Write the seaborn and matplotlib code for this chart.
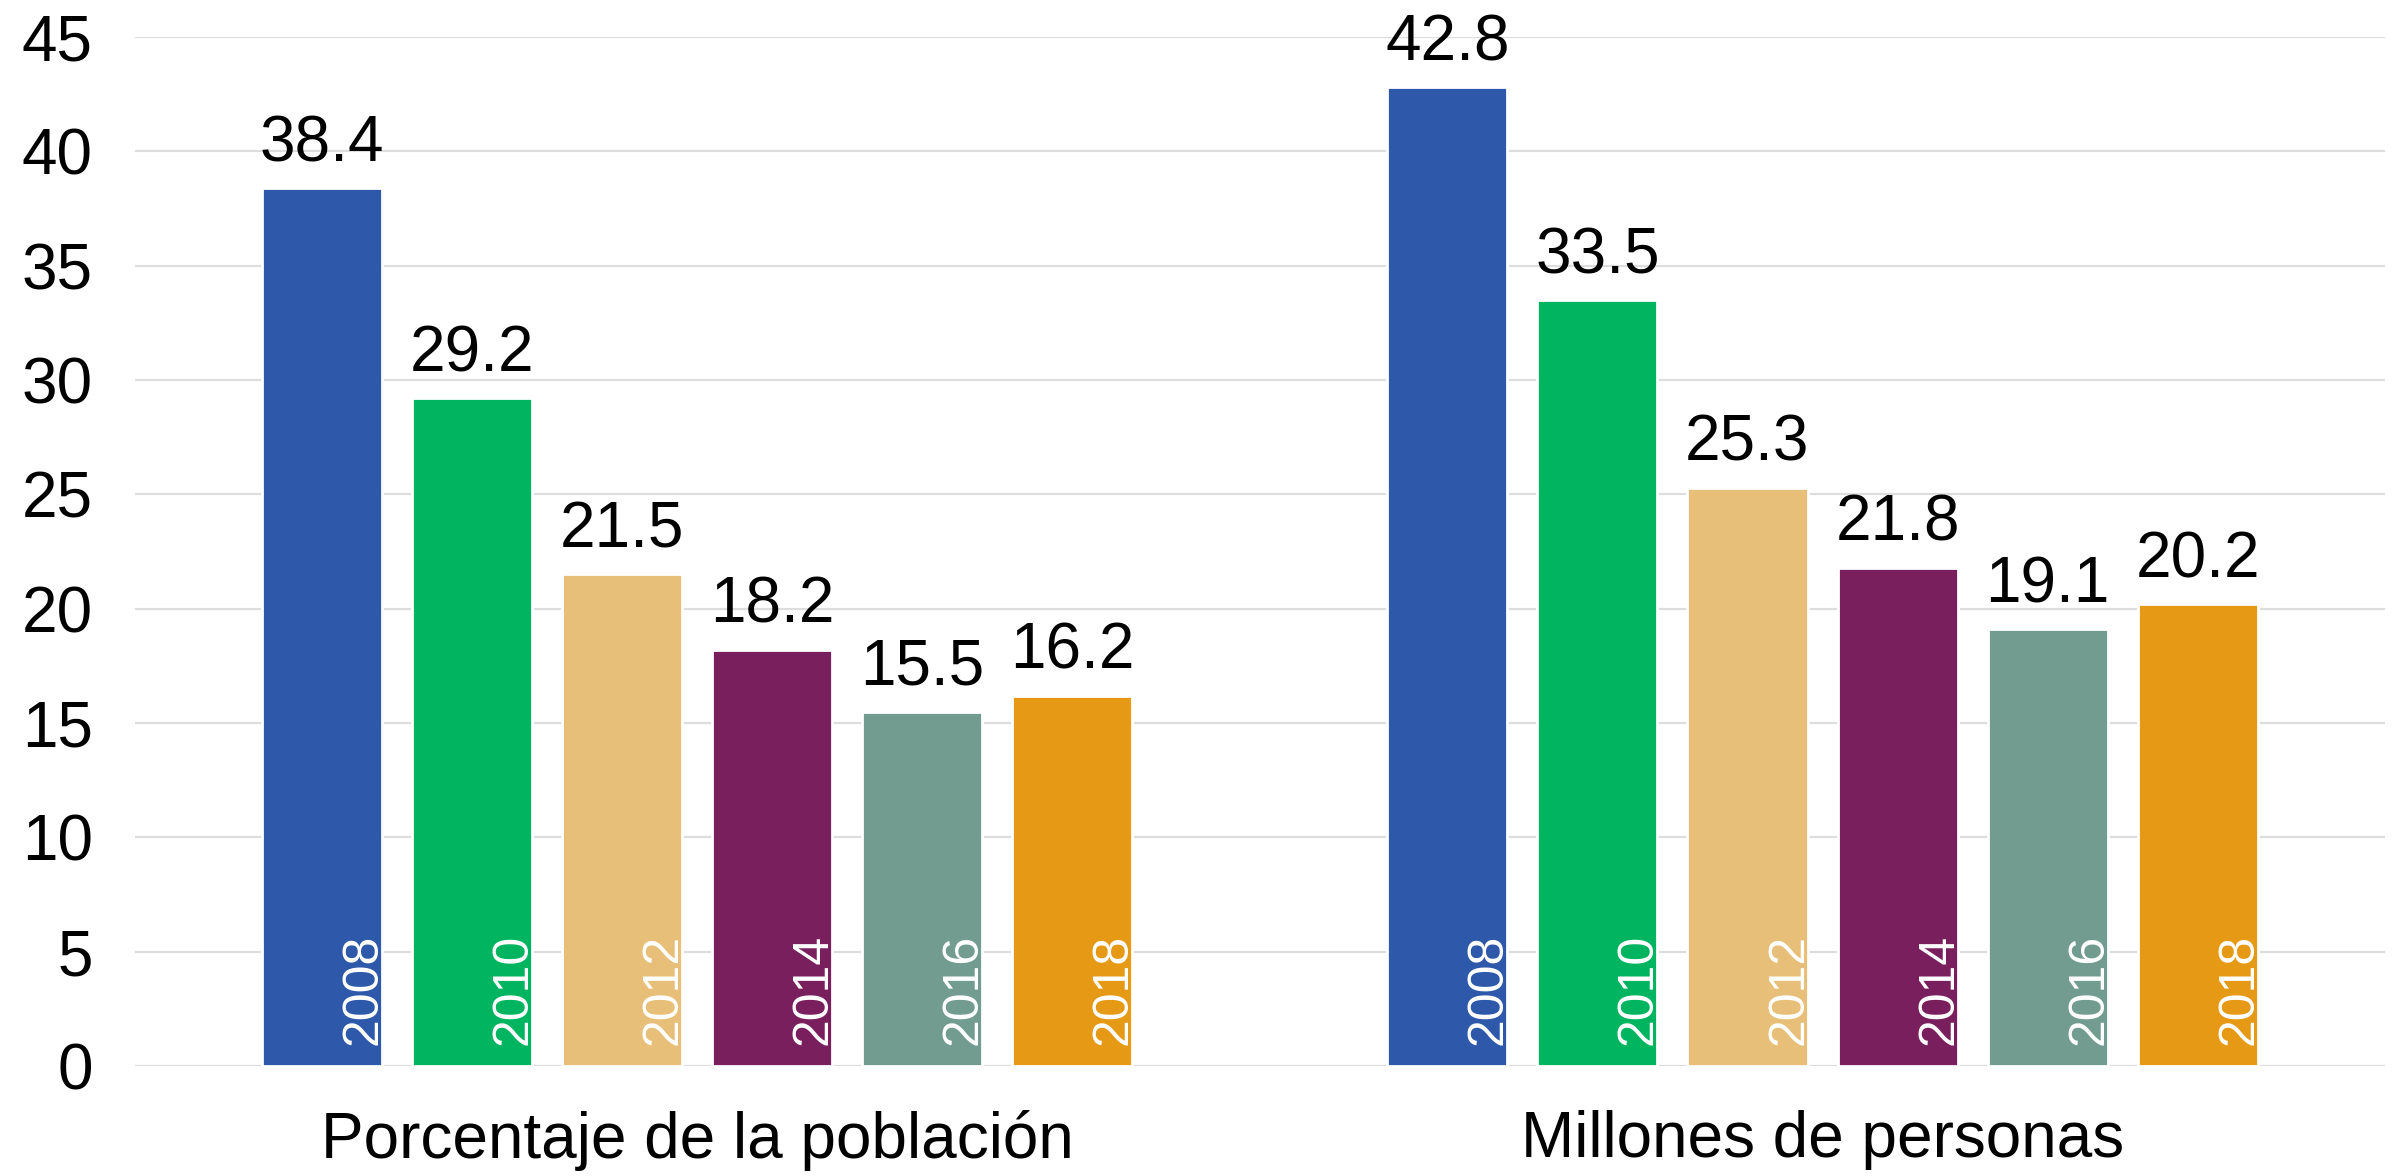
import pandas as pd
import matplotlib.pyplot as plt
import seaborn as sns

# Chart data
groups = ["Porcentaje de la población", "Millones de personas"]
years = ["2008", "2010", "2012", "2014", "2016", "2018"]
pct_values = [38.4, 29.2, 21.5, 18.2, 15.5, 16.2]
mill_values = [42.8, 33.5, 25.3, 21.8, 19.1, 20.2]
colors = ["#2E58A9", "#00B460", "#E8BF78", "#7A1F5E", "#729C8F", "#E59915"]
yticks = [0, 5, 10, 15, 20, 25, 30, 35, 40, 45]

df = pd.DataFrame({
    "group": [groups[0]] * len(years) + [groups[1]] * len(years),
    "year": years + years,
    "value": pct_values + mill_values,
})

sns.set_theme(style="white")
plt.rcParams['font.family'] = ['Liberation Sans', 'DejaVu Sans']
plt.rcParams['text.color'] = 'black'
plt.rcParams['xtick.color'] = 'black'
plt.rcParams['ytick.color'] = 'black'

fig = plt.figure(figsize=(12.01, 5.88), dpi=200)
ax = fig.add_axes((0.056, 0.0935, 0.937, 0.875))

sns.barplot(data=df, x="group", y="value", hue="year", order=groups,
            hue_order=years, palette=colors, width=0.8, gap=0.2,
            saturation=1, legend=False, ax=ax)

ax.set_ylim(0, 45)
ax.set_xlim(-0.5, 1.5)
ax.set_yticks(yticks)
ax.set_yticklabels([str(t) for t in yticks], fontsize=23)
ax.tick_params(axis="x", labelsize=23, pad=16, length=0, labelcolor="black")
ax.tick_params(axis="y", pad=15, length=0, labelcolor="black")
ax.set_xlabel("")
ax.set_ylabel("")
ax.yaxis.grid(True, color="#DDDDDD", linewidth=0.8)
ax.set_axisbelow(True)
for s in ax.spines.values():
    s.set_visible(False)

# value labels on top, year labels inside bars
for cont in ax.containers:
    ax.bar_label(cont, fmt="%.1f", padding=5, fontsize=23, color="black")

for cont, yr in zip(ax.containers, years):
    for patch in cont.patches:
        t = ax.text(patch.get_x() + patch.get_width() + 0.004, 0.9, yr,
                    rotation=90, ha="right", va="bottom", color="white",
                    fontsize=18)
        t.set_clip_path(patch)

fig.savefig("out.png", dpi=200)
